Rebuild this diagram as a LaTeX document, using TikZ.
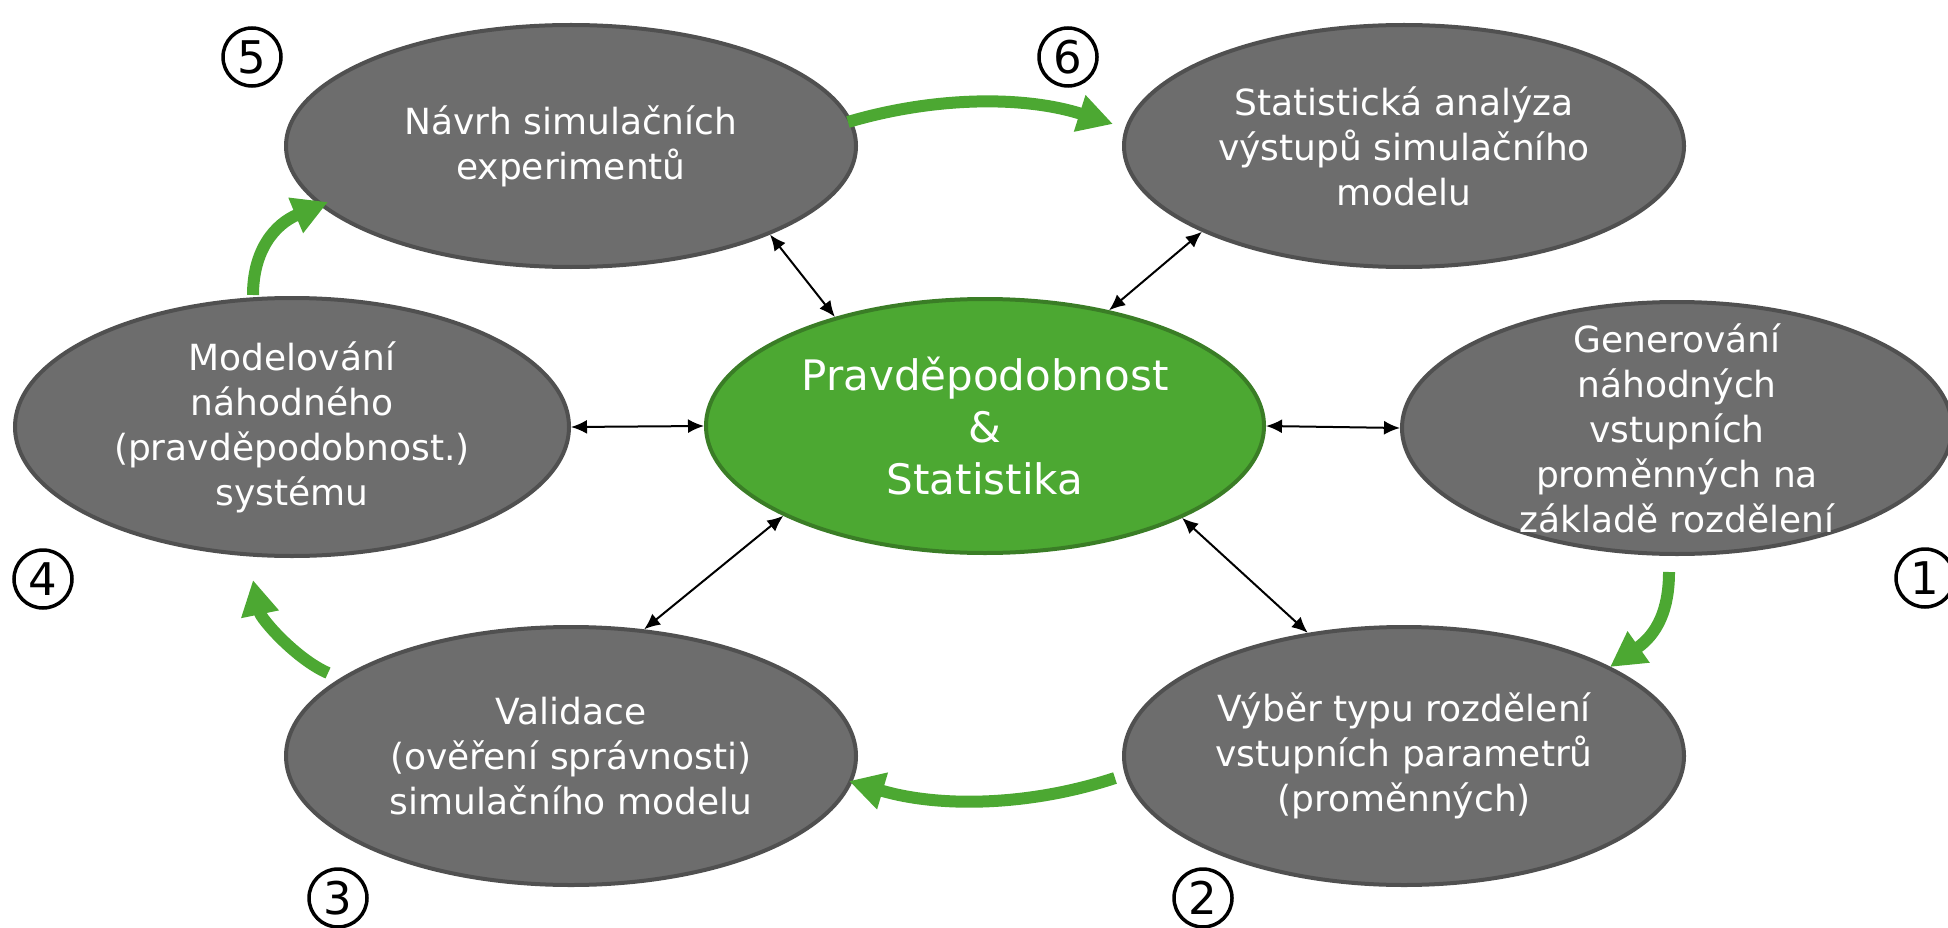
\documentclass[tikz,border=0pt]{standalone}
\usepackage{fontspec}
\setmainfont{DejaVu Sans}
\usetikzlibrary{arrows.meta,shapes.geometric}
\definecolor{grayfill}{HTML}{6D6D6D}
\definecolor{grayline}{HTML}{505050}
\definecolor{greenfill}{HTML}{4CA832}
\definecolor{greenline}{HTML}{3A7D26}
\definecolor{arrowgreen}{HTML}{4CA832}
\tikzset{
  grayell/.style={ellipse, draw=grayline, fill=grayfill, line width=4pt, inner sep=0pt},
  greenell/.style={ellipse, draw=greenline, fill=greenfill, line width=4pt, inner sep=0pt},
  graytext/.style={text=white, align=center, font=\fontsize{36}{45}\selectfont, inner sep=0pt},
  greentext/.style={text=white, align=center, font=\fontsize{42}{52}\selectfont, inner sep=0pt},
  biarrow/.style={line width=2pt, {Latex[length=16pt,width=14pt]}-{Latex[length=16pt,width=14pt]}},
  cyclearrow/.style={draw=arrowgreen, line width=12pt, -{Triangle[length=35pt,width=36pt]}},
  numcirc/.style={circle, draw=black, line width=3.5pt, minimum size=58pt, inner sep=0pt, font=\fontsize{45}{45}\selectfont}
}
\begin{document}
\begin{tikzpicture}[x=1pt,y=-1pt]
\useasboundingbox (0,0) rectangle (1948,928);

% ellipses
\node[grayell, minimum width=570pt, minimum height=242pt] (n5) at (571,146) {};
\node[grayell, minimum width=560pt, minimum height=242pt] (n6) at (1404,146) {};
\node[grayell, minimum width=554pt, minimum height=258pt] (n4) at (292,427) {};
\node[greenell, minimum width=558pt, minimum height=254pt] (nc) at (985,426) {};
\node[grayell, minimum width=550pt, minimum height=252pt] (n1) at (1677,428) {};
\node[grayell, minimum width=570pt, minimum height=258pt] (n3) at (571,756) {};
\node[grayell, minimum width=560pt, minimum height=258pt] (n2) at (1404,756) {};

% texts
\node[graytext] (t5) at (n5) {Návrh simulačních\\experimentů};
\node[graytext] (t6) at (n6) {Statistická analýza\\výstupů simulačního\\modelu};
\node[graytext] (t4) at (n4) {Modelování\\náhodného\\(pravděpodobnost.)\\systému};
\node[greentext] (tc) at (nc) {Pravděpodobnost\\\&\\Statistika};
\node[graytext] (t1) at (n1) {Generování\\náhodných\\vstupních\\proměnných na\\základě rozdělení};
\node[graytext] (t3) at (n3) {Validace\\(ověření správnosti)\\simulačního modelu};
\node[graytext] (t2) at (n2) {Výběr typu rozdělení\\vstupních parametrů\\(proměnných)};

% black double arrows
\draw[biarrow] (n5.-24) -- (nc.144);
\draw[biarrow] (n6.-157) -- (nc.43);
\draw[biarrow] (n4.east) -- (nc.west);
\draw[biarrow] (nc.east) -- (n1.west);
\draw[biarrow] (n3.60) -- (nc.204);
\draw[biarrow] (n2.128) -- (nc.-25);

% green cycle arrows
\coordinate (g1s) at (1669,572);
\coordinate (g1e) at (1610,667);
\coordinate (g2s) at (1115,778);
\coordinate (g2e) at (849,781);
\coordinate (g3s) at (328,673);
\coordinate (g3e) at (253,580);
\coordinate (g4s) at (253,295);
\coordinate (g4e) at (328,202);
\coordinate (g5s) at (848,122);
\coordinate (g5e) at (1113,124);
\draw[cyclearrow] (g1s) .. controls (1669,610) and (1657,634) .. (g1e);
\draw[cyclearrow] (g2s) .. controls (1030,806) and (940,808) .. (g2e);
\draw[cyclearrow] (g3s) .. controls (296,659) and (261,619) .. (g3e);
\draw[cyclearrow] (g4s) .. controls (253,250) and (275,224) .. (g4e);
\draw[cyclearrow] (g5s) .. controls (936,96) and (1025,96) .. (g5e);

% step numbers
\node[numcirc] (c1) at (1925,578) {1};
\node[numcirc] (c2) at (1203,898) {2};
\node[numcirc] (c3) at (338,898) {3};
\node[numcirc] (c4) at (43,579) {4};
\node[numcirc] (c5) at (252,57) {5};
\node[numcirc] (c6) at (1068,57) {6};
\end{tikzpicture}
\end{document}
